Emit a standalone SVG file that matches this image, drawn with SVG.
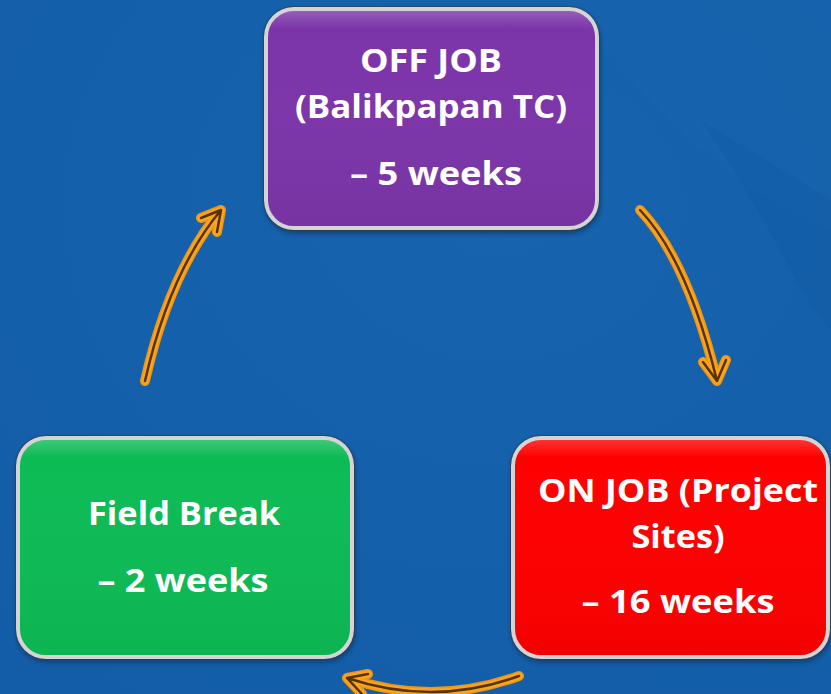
<svg xmlns="http://www.w3.org/2000/svg" width="831" height="694" viewBox="0 0 831 694">
<defs>
<style>
.lbl{font-family:"Open Sans","Liberation Sans",sans-serif;font-weight:bold;font-size:33px;fill:#ffffff;text-anchor:middle}
.box{stroke:#d4d4d4;stroke-width:4}
.edge{fill:none;stroke:#3a3a3a;stroke-width:1;opacity:0.6}
.a1{fill:none;stroke:#EE9612;stroke-width:10;stroke-linecap:round;stroke-linejoin:round}
.a2{fill:none;stroke:#F9A522;stroke-width:7;stroke-linecap:round;stroke-linejoin:round}
.a3{fill:none;stroke:#5a3200;stroke-width:2.5;stroke-linecap:round;stroke-linejoin:round}
</style>
<radialGradient id="bg" cx="0.6" cy="0.3" r="0.9">
<stop offset="0" stop-color="#1763AD"/>
<stop offset="1" stop-color="#135DA8"/>
</radialGradient>
<filter id="sh" x="-10%" y="-10%" width="120%" height="125%">
<feDropShadow dx="1" dy="3" stdDeviation="2.5" flood-color="#0a2a50" flood-opacity="0.7"/>
</filter>
<linearGradient id="gloss" x1="0" y1="0" x2="0" y2="1">
<stop offset="0" stop-color="#ffffff" stop-opacity="0.2"/>
<stop offset="0.08" stop-color="#ffffff" stop-opacity="0"/>
<stop offset="1" stop-color="#000000" stop-opacity="0.04"/>
</linearGradient>
</defs>
<rect width="831" height="694" fill="url(#bg)"/>
<path d="M560 0 C620 60 700 180 831 230 L831 0 Z" fill="#1a68b0" opacity="0.3"/>
<path d="M700 120 C760 200 800 300 831 330 L831 200 Z" fill="#105aa2" opacity="0.3"/>

<g id="connectors">
<g id="arrow-top-right">
<path class="a1" d="M640 210 Q687.5 260 717 381 M703 362 L717 381 L726 360"/>
<path class="a2" d="M640 210 Q687.5 260 717 381 M703 362 L717 381 L726 360"/>
<path class="a3" d="M640 210 Q687.5 260 717 381 M703 362 L717 381 L726 360"/>
</g>
<g id="arrow-bottom">
<path class="a1" d="M519 676 Q434 707 347 678 M368 674 L347 678 L362 694"/>
<path class="a2" d="M519 676 Q434 707 347 678 M368 674 L347 678 L362 694"/>
<path class="a3" d="M519 676 Q434 707 347 678 M368 674 L347 678 L362 694"/>
</g>
<g id="arrow-left-top">
<path class="a1" d="M145 381 Q170 271 221 210 M201 218 L221 210 L217 232"/>
<path class="a2" d="M145 381 Q170 271 221 210 M201 218 L221 210 L217 232"/>
<path class="a3" d="M145 381 Q170 271 221 210 M201 218 L221 210 L217 232"/>
</g>
</g>

<g id="node-offjob">
<rect class="box" x="266" y="9" width="331" height="219" rx="28" fill="#7B36A9" filter="url(#sh)"/>
<rect x="268" y="11" width="327" height="215" rx="26" fill="url(#gloss)"/>
<rect class="edge" x="263.5" y="6.5" width="336" height="224" rx="30"/>
<text class="lbl" x="431" y="72" textLength="142" lengthAdjust="spacingAndGlyphs">OFF JOB</text>
<text class="lbl" x="431" y="118" textLength="272" lengthAdjust="spacingAndGlyphs">(Balikpapan TC)</text>
<text class="lbl" x="436" y="185" textLength="172" lengthAdjust="spacingAndGlyphs">– 5 weeks</text>
</g>

<g id="node-onjob">
<rect class="box" x="513" y="438" width="315" height="219" rx="28" fill="#FE0000" filter="url(#sh)"/>
<rect x="515" y="440" width="311" height="215" rx="26" fill="url(#gloss)"/>
<rect class="edge" x="510.5" y="435.5" width="320" height="224" rx="30"/>
<text class="lbl" x="678" y="502" textLength="280" lengthAdjust="spacingAndGlyphs">ON JOB (Project</text>
<text class="lbl" x="678" y="548" textLength="93" lengthAdjust="spacingAndGlyphs">Sites)</text>
<text class="lbl" x="678" y="613" textLength="193" lengthAdjust="spacingAndGlyphs">– 16 weeks</text>
</g>

<g id="node-fieldbreak">
<rect class="box" x="18" y="438" width="334" height="219" rx="28" fill="#07BB55" filter="url(#sh)"/>
<rect x="20" y="440" width="330" height="215" rx="26" fill="url(#gloss)"/>
<rect class="edge" x="15.5" y="435.5" width="339" height="224" rx="30"/>
<text class="lbl" x="184" y="525" textLength="192" lengthAdjust="spacingAndGlyphs">Field Break</text>
<text class="lbl" x="183" y="592" textLength="171" lengthAdjust="spacingAndGlyphs">– 2 weeks</text>
</g>
</svg>
